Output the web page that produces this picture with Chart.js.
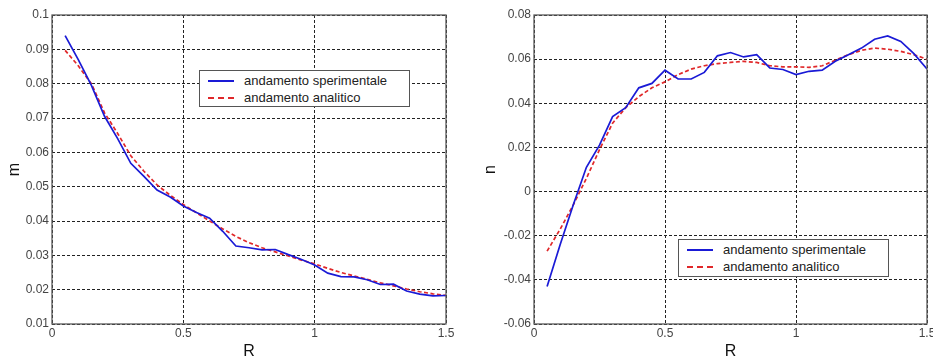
<!DOCTYPE html>
<html>
<head>
<meta charset="utf-8">
<script src="https://cdn.jsdelivr.net/npm/chart.js@4.4.1/dist/chart.umd.min.js"></script>
<style>
  body { margin: 0; background: #fff; width: 933px; height: 360px; position: relative; overflow: hidden;
         font-family: "Liberation Sans", Arial, sans-serif; }
  canvas { position: absolute; top: 0; }
  .leg { position: absolute; background: #fff; border: 1px solid #555; font-size: 13px; color: #222;
         box-sizing: border-box; padding-top: 1px; }
  .leg .row { height: 17px; line-height: 17px; position: relative; white-space: nowrap; }
  .leg .smp { position: absolute; left: 8px; top: 8px; width: 26px; height: 0; }
  .leg .txt { position: absolute; left: 44px; top: 0; }
</style>
</head>
<body>
<canvas id="chartM" width="466" height="360" style="left:0px"></canvas>
<canvas id="chartN" width="457" height="360" style="left:476px"></canvas>
<div id="legM" class="leg" style="left:199px;top:70px;width:211px;height:37px"></div>
<div id="legN" class="leg" style="left:678px;top:239px;width:211px;height:38px"></div>
<script>
// R values (common to both plots)
var R = [0.05,0.10,0.15,0.20,0.25,0.30,0.35,0.40,0.45,0.50,0.55,0.60,0.65,0.70,0.75,
         0.80,0.85,0.90,0.95,1.00,1.05,1.10,1.15,1.20,1.25,1.30,1.35,1.40,1.45,1.50];

// coefficiente m
var mSperimentale = [0.0940,0.0870,0.0795,0.0705,0.0640,0.0568,0.0530,0.0490,0.0470,0.0444,
                     0.0425,0.0408,0.0370,0.0327,0.0322,0.0316,0.0317,0.0302,0.0288,0.0272,
                     0.0248,0.0238,0.0237,0.0229,0.0215,0.0216,0.0196,0.0187,0.0182,0.0183];
var mAnalitico    = [0.0897,0.0852,0.0800,0.0715,0.0655,0.0590,0.0545,0.0505,0.0475,0.0448,
                     0.0424,0.0400,0.0377,0.0355,0.0337,0.0322,0.0310,0.0298,0.0286,0.0275,
                     0.0262,0.0250,0.0240,0.0230,0.0220,0.0211,0.0202,0.0194,0.0188,0.0183];

// coefficiente n
var nSperimentale = [-0.0430,-0.0240,-0.0060,0.0110,0.0210,0.0340,0.0380,0.0470,0.0490,0.0550,
                     0.0510,0.0510,0.0540,0.0615,0.0630,0.0610,0.0620,0.0560,0.0553,0.0530,
                     0.0545,0.0550,0.0590,0.0620,0.0650,0.0690,0.0705,0.0680,0.0625,0.0555];
var nAnalitico    = [-0.0270,-0.0170,-0.0060,0.0060,0.0190,0.0310,0.0380,0.0430,0.0470,0.0497,
                     0.0530,0.0555,0.0570,0.0580,0.0585,0.0590,0.0585,0.0570,0.0565,0.0565,
                     0.0563,0.0570,0.0595,0.0620,0.0640,0.0650,0.0645,0.0635,0.0620,0.0600];

var xTicks = [0, 0.5, 1, 1.5];
var mTicks = [0.01,0.02,0.03,0.04,0.05,0.06,0.07,0.08,0.09,0.1];
var nTicks = [-0.06,-0.04,-0.02,0,0.02,0.04,0.06,0.08];
var seriesLabels = ['andamento sperimentale', 'andamento analitico'];

var BLUE = '#1a1ad6';
var RED = '#e0282a';
var FONT = '"Liberation Sans", Arial, sans-serif';

// draws the full box around the plot area (matlab style)
var boxPlugin = {
  id: 'box',
  afterDraw: function (chart) {
    var a = chart.chartArea, c = chart.ctx;
    c.save();
    c.strokeStyle = '#5a5a5a';
    c.lineWidth = 1.3;
    c.strokeRect(a.left, a.top, a.right - a.left, a.bottom - a.top);
    c.restore();
  }
};

function pts(ys) {
  return R.map(function (r, i) { return { x: r, y: ys[i] }; });
}

function makeChart(id, yTitle, ser, anal, yTicks, yWidth, padRight) {
  var ctx = document.getElementById(id).getContext('2d');
  return new Chart(ctx, {
    type: 'line',
    data: {
      datasets: [
        { label: seriesLabels[0], data: pts(ser), borderColor: BLUE, borderWidth: 1.7,
          pointRadius: 0, tension: 0, fill: false },
        { label: seriesLabels[1], data: pts(anal), borderColor: RED, borderWidth: 1.7,
          borderDash: [4, 2.5], pointRadius: 0, tension: 0, fill: false }
      ]
    },
    options: {
      responsive: false,
      animation: false,
      layout: { padding: { top: 15, right: padRight, left: 0, bottom: 0 } },
      plugins: { legend: { display: false }, tooltip: { enabled: false } },
      scales: {
        x: {
          type: 'linear', min: 0, max: 1.5,
          afterBuildTicks: function (s) { s.ticks = xTicks.map(function (v) { return { value: v }; }); },
          afterFit: function (s) { s.height = 36; s.paddingLeft = 0; s.paddingRight = 0; },
          ticks: { padding: 2, color: '#444', font: { family: FONT, size: 12 }, maxRotation: 0,
                   callback: function (v) { return String(v); } },
          grid: { color: '#222', lineWidth: 1, drawTicks: false },
          border: { display: false, dash: [3, 2] },
          title: { display: true, text: 'R', color: '#111', font: { family: FONT, size: 16, lineHeight: 1 },
                   padding: { top: 0, bottom: 0 } }
        },
        y: {
          type: 'linear', min: yTicks[0], max: yTicks[yTicks.length - 1],
          afterBuildTicks: function (s) { s.ticks = yTicks.map(function (v) { return { value: v }; }); },
          afterFit: function (s) { s.width = yWidth; s.paddingTop = 0; s.paddingBottom = 0; },
          ticks: { padding: 3, color: '#444', font: { family: FONT, size: 12 },
                   callback: function (v) { return String(Math.round(v * 1000) / 1000); } },
          grid: { color: '#222', lineWidth: 1, drawTicks: false },
          border: { display: false, dash: [3, 2] },
          title: { display: true, text: yTitle, color: '#111', font: { family: FONT, size: 16, lineHeight: 1 },
                   padding: { top: 7, bottom: 0 } }
        }
      }
    },
    plugins: [boxPlugin]
  });
}

function buildLegend(divId, chart) {
  var div = document.getElementById(divId);
  chart.data.datasets.forEach(function (ds) {
    var row = document.createElement('div');
    row.className = 'row';
    var smp = document.createElement('div');
    smp.className = 'smp';
    smp.style.borderTop = '2px ' + (ds.borderDash ? 'dashed ' : 'solid ') + ds.borderColor;
    var txt = document.createElement('span');
    txt.className = 'txt';
    txt.textContent = ds.label;
    row.appendChild(smp);
    row.appendChild(txt);
    div.appendChild(row);
  });
}

var chartM = makeChart('chartM', 'm', mSperimentale, mAnalitico, mTicks, 52, 20);
var chartN = makeChart('chartN', 'n', nSperimentale, nAnalitico, nTicks, 58, 6);
buildLegend('legM', chartM);
buildLegend('legN', chartN);
</script>
</body>
</html>
